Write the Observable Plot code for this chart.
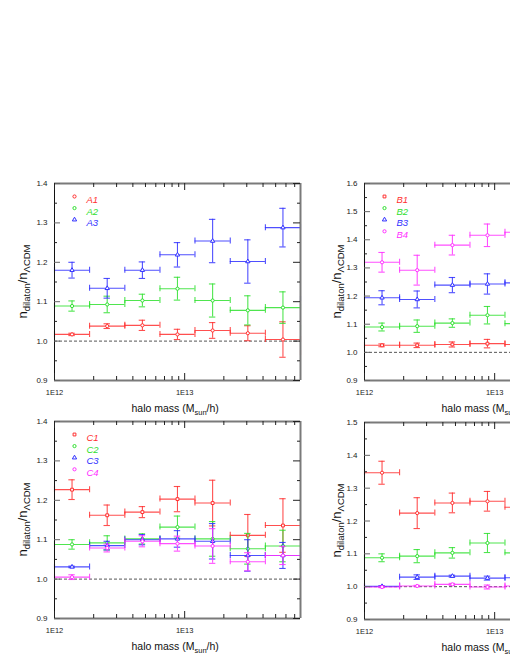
<!DOCTYPE html>
<html><head><meta charset="utf-8">
<script src="https://cdn.jsdelivr.net/npm/d3@7"></script>
<script src="https://cdn.jsdelivr.net/npm/@observablehq/plot@0.6"></script>
<style>
html,body{margin:0;padding:0;background:#fff;overflow:hidden}
#wrap{position:relative;width:510px;height:660px;overflow:hidden;background:#fff}
#wrap svg{position:absolute;overflow:visible}
</style></head>
<body><div id="wrap"></div>
<script>
// ---- data ----
const binEdges = [1.0e12, 1.86e12, 3.47e12, 6.46e12, 1.20e13, 2.24e13, 4.17e13, 7.76e13, 1.45e14];
const xDomain = [1.0e12, 7.76e13];
const xMajorTicks = [1e12, 1e13];
const xTickLabels = ["1E12", "1E13"];
const xMinorTicks = [2e12,3e12,4e12,5e12,6e12,7e12,8e12,9e12,2e13,3e13,4e13,5e13,6e13,7e13];

const A1 = [1.017, 1.038, 1.040, 1.017, 1.027, 1.020, 1.004, 0.970];
const A1err = [0.003, 0.006, 0.013, 0.013, 0.020, 0.019, 0.045, 0.030];
const A2 = [1.089, 1.093, 1.103, 1.133, 1.103, 1.078, 1.085, 1.033];
const A2err = [0.013, 0.021, 0.016, 0.029, 0.042, 0.037, 0.040, 0.040];
const A3 = [1.180, 1.134, 1.180, 1.219, 1.254, 1.202, 1.288, 1.107];
const A3err = [0.020, 0.025, 0.021, 0.031, 0.055, 0.055, 0.049, 0.050];

const B1 = [1.025, 1.025, 1.028, 1.031, 1.028];
const B1err = [0.005, 0.008, 0.009, 0.015, 0.015];
const B2 = [1.090, 1.093, 1.104, 1.132, 1.102];
const B2err = [0.014, 0.022, 0.015, 0.031, 0.042];
const B3 = [1.194, 1.188, 1.239, 1.243, 1.247];
const B3err = [0.025, 0.030, 0.027, 0.036, 0.035];
const B4 = [1.320, 1.292, 1.381, 1.416, 1.427];
const B4err = [0.035, 0.053, 0.035, 0.040, 0.040];

const C1 = [1.227, 1.162, 1.170, 1.203, 1.193, 1.111, 1.136];
const C1err = [0.025, 0.026, 0.014, 0.032, 0.058, 0.053, 0.068];
const C2 = [1.088, 1.092, 1.102, 1.132, 1.102, 1.077, 1.084, 1.033];
const C2err = [0.012, 0.018, 0.013, 0.028, 0.044, 0.039, 0.040, 0.040];
const C3 = [1.031, 1.085, 1.100, 1.102, 1.096, 1.060, 1.060];
const C3err = [0.002, 0.011, 0.013, 0.021, 0.045, 0.040, 0.033];
const C4 = [1.005, 1.079, 1.096, 1.090, 1.084, 1.044, 1.060, 0.999];
const C4err = [0.006, 0.010, 0.014, 0.019, 0.044, 0.023, 0.023, 0.020];

const D1 = [1.347, 1.224, 1.255, 1.260, 1.242];
const D1err = [0.035, 0.047, 0.030, 0.030, 0.030];
const D2 = [1.088, 1.093, 1.103, 1.133, 1.103];
const D2err = [0.012, 0.020, 0.016, 0.029, 0.042];
const D3 = [1.001, 1.029, 1.032, 1.026, 1.027];
const D3err = [0.002, 0.007, 0.003, 0.006, 0.006];
const D4 = [0.999, 1.002, 1.007, 0.999, 1.002];
const D4err = [0.002, 0.002, 0.003, 0.006, 0.004];

const RED = "#ff3030", GREEN = "#30e030", BLUE = "#3030ff", MAGENTA = "#ff30ff";
const FONT = "'Liberation Sans', Arial, Helvetica, sans-serif";

const panels = [
  {left: 0, top: 170, yMax: 1.4, legend: true, labelOff: 27.5, series: [
    {name: "A1", values: A1, errors: A1err, color: RED, symbol: "circle"},
    {name: "A2", values: A2, errors: A2err, color: GREEN, symbol: "circle"},
    {name: "A3", values: A3, errors: A3err, color: BLUE, symbol: "triangle"}]},
  {left: 310, top: 170, yMax: 1.6, legend: true, labelOff: 23.5, series: [
    {name: "B1", values: B1, errors: B1err, color: RED, symbol: "square"},
    {name: "B2", values: B2, errors: B2err, color: GREEN, symbol: "circle"},
    {name: "B3", values: B3, errors: B3err, color: BLUE, symbol: "triangle"},
    {name: "B4", values: B4, errors: B4err, color: MAGENTA, symbol: "circle"}]},
  {left: 0, top: 408, yMax: 1.4, legend: true, labelOff: 27.5, series: [
    {name: "C1", values: C1, errors: C1err, color: RED, symbol: "square"},
    {name: "C2", values: C2, errors: C2err, color: GREEN, symbol: "circle"},
    {name: "C3", values: C3, errors: C3err, color: BLUE, symbol: "triangle"},
    {name: "C4", values: C4, errors: C4err, color: MAGENTA, symbol: "circle"}]},
  {left: 310, top: 409, yMax: 1.5, legend: false, labelOff: 23.5, series: [
    {name: "D1", values: D1, errors: D1err, color: RED, symbol: "circle"},
    {name: "D2", values: D2, errors: D2err, color: GREEN, symbol: "circle"},
    {name: "D3", values: D3, errors: D3err, color: BLUE, symbol: "triangle"},
    {name: "D4", values: D4, errors: D4err, color: MAGENTA, symbol: "circle"}]}
];

const ML = 54, MR = 10, MT = 13, FW = 246, FH = 197, MB = 40;
const wrap = document.getElementById("wrap");

function rowsOf(s) {
  return s.values.map((v, i) => ({
    y: v, e: s.errors[i], lo: binEdges[i], hi: binEdges[i + 1],
    xc: Math.sqrt(binEdges[i] * binEdges[i + 1]), color: s.color
  }));
}

for (const p of panels) {
  const yMin = 0.9;
  const nMajor = Math.round((p.yMax - yMin) / 0.1);
  const yMajor = d3.range(nMajor + 1).map(i => +(yMin + i * 0.1).toFixed(2));
  const yMinor = d3.range(nMajor).map(i => +(yMin + 0.05 + i * 0.1).toFixed(2));
  const xMax = xDomain[1] * 1.0001;

  const marks = [];
  // dashed reference line
  marks.push(Plot.ruleY([1.0], {stroke: "#555", strokeWidth: 1, strokeDasharray: "3,2"}));

  for (const s of p.series) {
    const rows = rowsOf(s);
    const vcaps = rows.flatMap(r => [{x: r.xc, y: r.y - r.e}, {x: r.xc, y: r.y + r.e}]);
    const hcaps = rows.flatMap(r => [{x: r.lo, y: r.y}, {x: r.hi, y: r.y}]).filter(d => d.x <= xMax);
    const common = {stroke: s.color, strokeWidth: 1.1, strokeOpacity: 0.85};
    marks.push(
      Plot.ruleY(rows, {y: "y", x1: "lo", x2: "hi", clip: true, ...common}),
      Plot.ruleX(rows, {x: "xc", y1: d => d.y - d.e, y2: d => d.y + d.e, clip: true, ...common}),
      Plot.ruleY(vcaps, {y: "y", x1: "x", x2: "x", insetLeft: -3.2, insetRight: -3.2, clip: true, ...common}),
      Plot.ruleX(hcaps, {x: "x", y1: "y", y2: "y", insetTop: -3, insetBottom: -3, ...common}),
      Plot.dot(rows, {x: "xc", y: "y", r: 1.6, symbol: s.symbol, stroke: s.color, strokeWidth: 1, fill: "white", clip: true})
    );
  }

  // frame: left black thin, others gray thick
  marks.push(
    Plot.ruleX([xDomain[0]], {stroke: "#111", strokeWidth: 1}),
    Plot.ruleY([yMin], {stroke: "#7a7a7a", strokeWidth: 2}),
    Plot.ruleY([p.yMax], {stroke: "#7a7a7a", strokeWidth: 2}),
    Plot.ruleX([xDomain[1]], {stroke: "#7a7a7a", strokeWidth: 2})
  );

  // inward ticks
  const tk = {strokeWidth: 1};
  marks.push(
    Plot.ruleY(yMajor, {y: d => d, x1: xDomain[0], x2: xDomain[0], insetRight: -6, stroke: "#666", ...tk}),
    Plot.ruleY(yMinor, {y: d => d, x1: xDomain[0], x2: xDomain[0], insetRight: -3, stroke: "#222", ...tk}),
    Plot.ruleY(yMajor, {y: d => d, x1: xDomain[1], x2: xDomain[1], insetLeft: -7, stroke: "#222", ...tk}),
    Plot.ruleY(yMinor, {y: d => d, x1: xDomain[1], x2: xDomain[1], insetLeft: -3, stroke: "#222", ...tk}),
    Plot.ruleX(xMajorTicks, {x: d => d, y1: yMin, y2: yMin, insetTop: -7, stroke: "#222", ...tk}),
    Plot.ruleX(xMinorTicks, {x: d => d, y1: yMin, y2: yMin, insetTop: -4, stroke: "#222", ...tk}),
    Plot.ruleX(xMajorTicks, {x: d => d, y1: p.yMax, y2: p.yMax, insetBottom: -7, stroke: "#222", ...tk}),
    Plot.ruleX(xMinorTicks, {x: d => d, y1: p.yMax, y2: p.yMax, insetBottom: -4, stroke: "#222", ...tk})
  );

  // tick labels
  marks.push(
    Plot.text(yMajor, {x: xDomain[0], y: d => d, text: d => d.toFixed(1), dx: -7, textAnchor: "end",
      fontSize: 8, fill: "#222"}),
    Plot.text(xMajorTicks, {x: d => d, y: yMin, text: (d, i) => xTickLabels[i], dy: 12,
      fontSize: 7.5, fill: "#222"})
  );

  // legend
  if (p.legend) {
    p.series.forEach((s, i) => {
      marks.push(
        Plot.dot([s], {frameAnchor: "top-left", dx: 20, dy: 13 + i * 11.6, symbol: s.symbol,
          r: 1.6, stroke: s.color, strokeWidth: 1, fill: "none"}),
        Plot.text([s], {frameAnchor: "top-left", dx: 32, dy: 13 + i * 11.6, text: "name",
          textAnchor: "start", fontStyle: "italic", fontSize: 9.5, fill: s.color})
      );
    });
  }

  const chart = Plot.plot({
    width: ML + FW + MR, height: MT + FH + MB,
    marginLeft: ML, marginRight: MR, marginTop: MT, marginBottom: MB,
    x: {type: "log", domain: xDomain, axis: null},
    y: {domain: [yMin, p.yMax], axis: null},
    style: {background: "transparent", fontFamily: FONT, overflow: "visible"},
    marks
  });
  chart.style.left = p.left + "px";
  chart.style.top = p.top + "px";

  const svg = d3.select(chart);
  // y label: n_dilaton / n_ΛCDM
  const yl = svg.append("text")
    .attr("transform", `translate(${ML - p.labelOff},${MT + FH / 2}) rotate(-90)`)
    .attr("text-anchor", "middle").attr("font-family", FONT).attr("font-size", 13).attr("fill", "#111");
  yl.append("tspan").text("n");
  yl.append("tspan").attr("font-size", 9.5).attr("dy", 3.5).text("dilaton");
  yl.append("tspan").attr("dy", -3.5).text("/n");
  yl.append("tspan").attr("font-size", 9.5).attr("dy", 3.5).text("ΛCDM");

  // x title: halo mass (M_sun/h)
  const xl = svg.append("text")
    .attr("x", ML + 77.5).attr("y", MT + FH + 32)
    .attr("text-anchor", "start").attr("font-family", FONT).attr("font-size", 10.5).attr("fill", "#111");
  xl.append("tspan").text("halo mass (M");
  xl.append("tspan").attr("font-size", 7.5).attr("dy", 2.5).text("sun");
  xl.append("tspan").attr("dy", -2.5).text("/h)");

  wrap.appendChild(chart);
}
</script>
</body></html>
